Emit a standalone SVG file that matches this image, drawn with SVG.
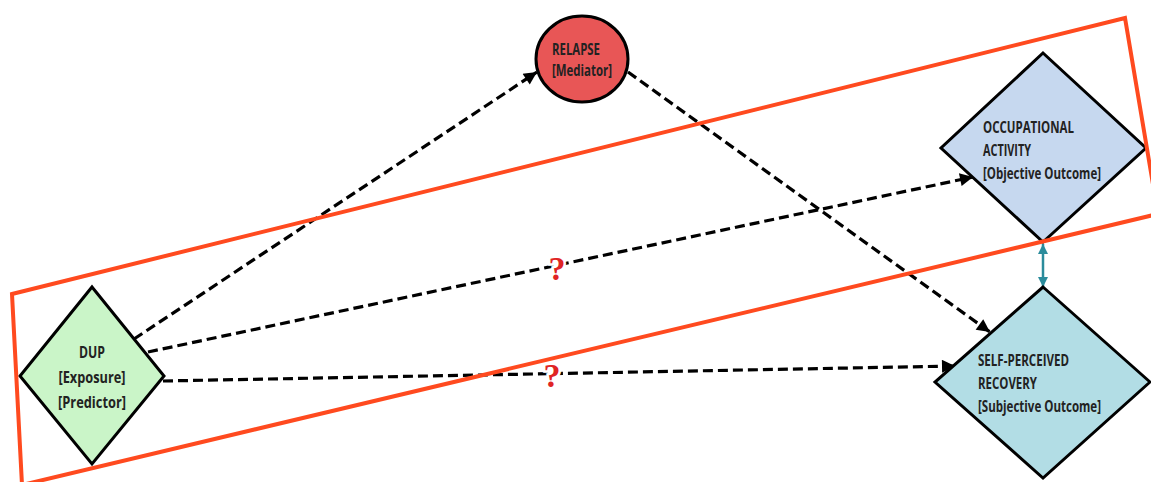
<svg xmlns="http://www.w3.org/2000/svg" width="1151" height="482" viewBox="0 0 1151 482">
  <defs>
    <style>
      .node { stroke: #000; stroke-width: 3; }
      .lbl { font-family: "Open Sans", "Liberation Sans", sans-serif; font-weight: 700; font-size: 16.5px; fill: #222; }
      .dash { fill: none; stroke: #000; stroke-width: 3.2; stroke-dasharray: 10 5; }
      .q { font-family: "Liberation Serif", "DejaVu Serif", serif; font-weight: bold; font-size: 34px; fill: #e02424; text-anchor: middle; }
      .frame { fill: none; stroke: #ff4a1f; stroke-width: 4; stroke-linejoin: miter; }
    </style>
    <marker id="ah" viewBox="0 0 10 10" refX="10" refY="5" markerWidth="16" markerHeight="13" markerUnits="userSpaceOnUse" orient="auto">
      <path d="M0,0 L10,5 L0,10 z" fill="#000"/>
    </marker>
    <marker id="ta" viewBox="0 0 10 10" refX="10" refY="5" markerWidth="11" markerHeight="10" markerUnits="userSpaceOnUse" orient="auto-start-reverse">
      <path d="M0,0 L10,5 L0,10 z" fill="#2b8c9c"/>
    </marker>
  </defs>
  <rect width="1151" height="482" fill="#fff"/>

  <g id="connectors">
    <line class="dash" x1="134" y1="339" x2="537" y2="72" marker-end="url(#ah)"/>
    <line class="dash" x1="148" y1="352" x2="973" y2="177" marker-end="url(#ah)"/>
    <line class="dash" x1="163" y1="381" x2="955" y2="366" marker-end="url(#ah)"/>
    <line class="dash" x1="628" y1="72" x2="990" y2="332" marker-end="url(#ah)"/>
    <line x1="1043" y1="244" x2="1043" y2="287" stroke="#2b8c9c" stroke-width="2.5" marker-start="url(#ta)" marker-end="url(#ta)"/>
    <text class="q" x="557" y="280" stroke="#fff" stroke-width="5" paint-order="stroke">?</text>
    <text class="q" x="552" y="387" stroke="#fff" stroke-width="5" paint-order="stroke">?</text>
  </g>

  <g id="dup">
    <polygon class="node" points="92,287 164,376 92,464 20,376" fill="#caf5c8"/>
    <text class="lbl" x="92" y="358" text-anchor="middle" textLength="26" lengthAdjust="spacingAndGlyphs" fill="#3a3a3a">DUP</text>
    <text class="lbl" x="92" y="383" text-anchor="middle" textLength="67" lengthAdjust="spacingAndGlyphs" fill="#3a3a3a">[Exposure]</text>
    <text class="lbl" x="92" y="408" text-anchor="middle" textLength="68" lengthAdjust="spacingAndGlyphs" fill="#3a3a3a">[Predictor]</text>
  </g>

  <g id="relapse">
    <ellipse class="node" cx="582" cy="59" rx="46" ry="43" fill="#e85656"/>
    <text class="lbl" x="552" y="55" textLength="48" lengthAdjust="spacingAndGlyphs">RELAPSE</text>
    <text class="lbl" x="552" y="76" textLength="60" lengthAdjust="spacingAndGlyphs">[Mediator]</text>
  </g>

  <g id="occupational">
    <polygon class="node" points="1043,53 1146,148 1043,242 941,148" fill="#c6d8ef"/>
    <text class="lbl" x="983" y="133" textLength="91" lengthAdjust="spacingAndGlyphs">OCCUPATIONAL</text>
    <text class="lbl" x="983" y="156" textLength="48" lengthAdjust="spacingAndGlyphs">ACTIVITY</text>
    <text class="lbl" x="983" y="179" textLength="118" lengthAdjust="spacingAndGlyphs">[Objective Outcome]</text>
  </g>

  <g id="recovery">
    <polygon class="node" points="1043,287 1150,382 1043,478 935,382" fill="#b2dde5"/>
    <text class="lbl" x="978" y="366" textLength="91" lengthAdjust="spacingAndGlyphs">SELF-PERCEIVED</text>
    <text class="lbl" x="978" y="389" textLength="59" lengthAdjust="spacingAndGlyphs">RECOVERY</text>
    <text class="lbl" x="978" y="412" textLength="123" lengthAdjust="spacingAndGlyphs">[Subjective Outcome]</text>
  </g>

  <g id="frame">
    <polygon class="frame" points="12,294 1125,18 1158,214 22,485"/>
  </g>
</svg>
